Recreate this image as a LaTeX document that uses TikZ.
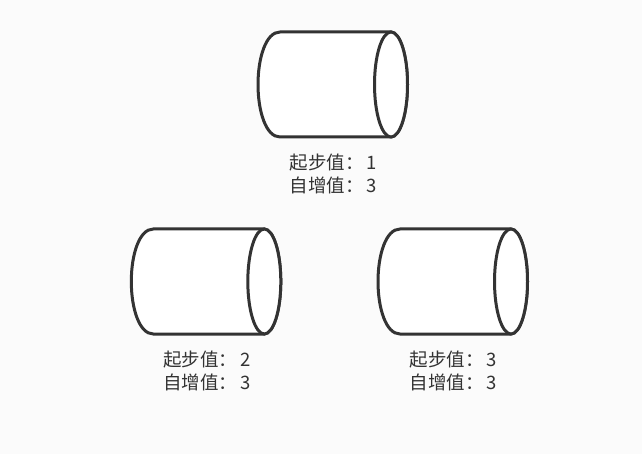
\documentclass[tikz,border=0pt]{standalone}
\usepackage{fontspec}
\setmainfont{Noto Sans CJK SC}
\usetikzlibrary{positioning}
\definecolor{pagebg}{HTML}{FBFBFB}
\definecolor{inkdark}{HTML}{333333}
\newcommand{\wcolon}{\char"FF1A\relax}
\tikzset{
	drumline/.style={draw=inkdark, line width=3pt, fill=white},
	drumlabel/.style={text=inkdark, font=\fontsize{18.5}{23}\selectfont, align=center, inner sep=0pt},
	pics/drum/.style={code={
		\path [drumline] (-53,-52.5) -- (58,-52.5) arc [start angle=-90, end angle=90, x radius=16.5, y radius=52.5]
		-- (-53,52.5) .. controls (-67,52.5) and (-75,27) .. (-75,0) .. controls (-75,-27) and (-67,-52.5) .. (-53,-52.5) -- cycle;
		\path [drumline] (58,0) ellipse [x radius=16.5, y radius=52.5];
	}}
}
\begin{document}
\begin{tikzpicture}[x=1pt, y=-1pt]
	
	%Background
	\fill [pagebg] (0,0) rectangle (642,454);
	\useasboundingbox (0,0) rectangle (642,454);
	
	%Drums
	\pic (top) at (333,84.5) {drum};
	\pic (left) at (206.3,281.5) {drum};
	\pic (right) at (453,281.5) {drum};
	
	%Labels
	\node [drumlabel] (topLabel) at (333.5,173.5) {起步值\wcolon\,1\\自增值\wcolon\,3};
	\node [drumlabel] (leftLabel) at (207,370.5) {起步值\wcolon\,2\\自增值\wcolon\,3};
	\node [drumlabel] (rightLabel) at (453.5,370.5) {起步值\wcolon\,3\\自增值\wcolon\,3};
	
\end{tikzpicture}
\end{document}
